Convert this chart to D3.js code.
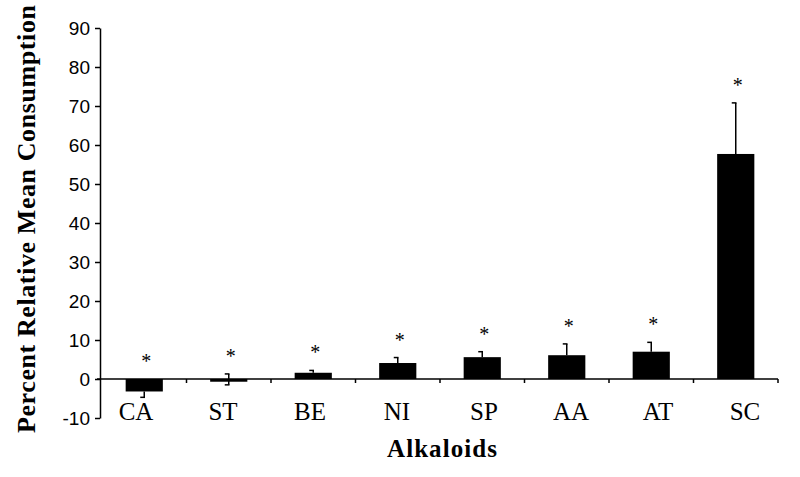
<!DOCTYPE html>
<html>
<head>
<meta charset="utf-8">
<script src="https://cdn.jsdelivr.net/npm/d3@7"></script>
<style>
  body { margin: 0; background: #fff; }
  svg { display: block; }
</style>
</head>
<body>
<div id="grafico"></div>
<script>
// Datos
const categorias = ['CA', 'ST', 'BE', 'NI', 'SP', 'AA', 'AT', 'SC'];
const valores = [-3.2, -0.7, 1.6, 4.1, 5.6, 6.1, 7.0, 57.7];
// error hacia arriba y hacia abajo de cada barra
const erroresSup = [0, 2.0, 0.6, 1.4, 1.4, 2.9, 2.4, 13.1];
const erroresInf = [1.5, 0.8, 0, 0, 0, 0, 0, 0];
const marcas = ['*', '*', '*', '*', '*', '*', '*', '*'];
const ticksY = [-10, 0, 10, 20, 30, 40, 50, 60, 70, 80, 90];

const width = 800;
const height = 477;
const serif = '"Liberation Serif", "Times New Roman", serif';

const svg = d3.select('#grafico').append('svg')
  .attr('width', width)
  .attr('height', height);

// Escalas
const x = d3.scaleBand()
  .domain(categorias)
  .range([102, 778])
  .paddingInner(0.56)
  .paddingOuter(0.28);

// las etiquetas del original quedan algo mas abiertas que las barras
const xEtiquetas = d3.scalePoint()
  .domain(categorias)
  .range([136, 745]);

const y = d3.scaleLinear()
  .domain([-10, 90])
  .range([418, 28]);

// Eje Y
const ejeY = svg.append('g')
  .attr('transform', 'translate(100,0)')
  .call(d3.axisLeft(y)
    .tickValues(ticksY)
    .tickFormat(d => String(d))
    .tickSize(5)
    .tickPadding(5)
    .tickSizeOuter(0));

ejeY.select('.domain').attr('stroke', '#000').attr('stroke-width', 1.5);
ejeY.selectAll('.tick line').attr('stroke', '#000').attr('stroke-width', 1.5);
ejeY.selectAll('.tick text')
  .style('font-family', '"Liberation Sans", Arial, sans-serif')
  .style('font-size', '19px')
  .attr('fill', '#000');

// Barras
svg.selectAll('rect.barra')
  .data(valores)
  .enter()
  .append('rect')
  .attr('class', 'barra')
  .attr('x', (d, i) => x(categorias[i]))
  .attr('width', x.bandwidth())
  .attr('y', d => y(Math.max(0, d)))
  .attr('height', d => Math.abs(y(d) - y(0)))
  .attr('fill', '#000');

// Barras de error
const centro = i => x(categorias[i]) + x.bandwidth() / 2;

valores.forEach((v, i) => {
  const arriba = v + erroresSup[i];
  const abajo = v - erroresInf[i];
  const g = svg.append('g').attr('stroke', '#000').attr('stroke-width', 1.5);
  g.append('line')
    .attr('x1', centro(i)).attr('x2', centro(i))
    .attr('y1', y(abajo)).attr('y2', y(arriba));
  [arriba, abajo].forEach((p, k) => {
    if ((k === 0 ? erroresSup[i] : erroresInf[i]) > 0) {
      g.append('line')
        .attr('x1', centro(i) - 4).attr('x2', centro(i) + 0.75)
        .attr('y1', y(p)).attr('y2', y(p));
    }
  });
});

// Eje X (en el cero)
svg.append('line')
  .attr('x1', 97).attr('x2', 778)
  .attr('y1', y(0)).attr('y2', y(0))
  .attr('stroke', '#000')
  .attr('stroke-width', 1.5);

categorias.forEach(c => {
  const xt = x(c) + x.step() * (1 - x.paddingOuter());
  svg.append('line')
    .attr('x1', xt).attr('x2', xt)
    .attr('y1', y(0)).attr('y2', y(0) + 4)
    .attr('stroke', '#000')
    .attr('stroke-width', 1.5);
});

// Etiquetas de categorias
svg.selectAll('text.cat')
  .data(categorias)
  .enter()
  .append('text')
  .attr('class', 'cat')
  .attr('x', d => xEtiquetas(d))
  .attr('y', 420)
  .attr('text-anchor', 'middle')
  .style('font-family', serif)
  .style('font-size', '25px')
  .text(d => d);

// Asteriscos
svg.selectAll('text.marca')
  .data(marcas)
  .enter()
  .append('text')
  .attr('class', 'marca')
  .attr('x', (d, i) => centro(i) + 2)
  .attr('y', (d, i) => y(Math.max(0, valores[i] + erroresSup[i])) - 11)
  .attr('text-anchor', 'middle')
  .style('font-family', serif)
  .style('font-size', '20px')
  .text(d => d);

// Titulos
svg.append('text')
  .attr('transform', 'translate(35,219) rotate(-90)')
  .attr('text-anchor', 'middle')
  .attr('textLength', 428)
  .attr('lengthAdjust', 'spacing')
  .style('font-family', serif)
  .style('font-size', '26px')
  .style('font-weight', 'bold')
  .text('Percent Relative Mean Consumption');

svg.append('text')
  .attr('x', 442)
  .attr('y', 457)
  .attr('text-anchor', 'middle')
  .attr('textLength', 110)
  .attr('lengthAdjust', 'spacing')
  .style('font-family', serif)
  .style('font-size', '25px')
  .style('font-weight', 'bold')
  .text('Alkaloids');
</script>
</body>
</html>
